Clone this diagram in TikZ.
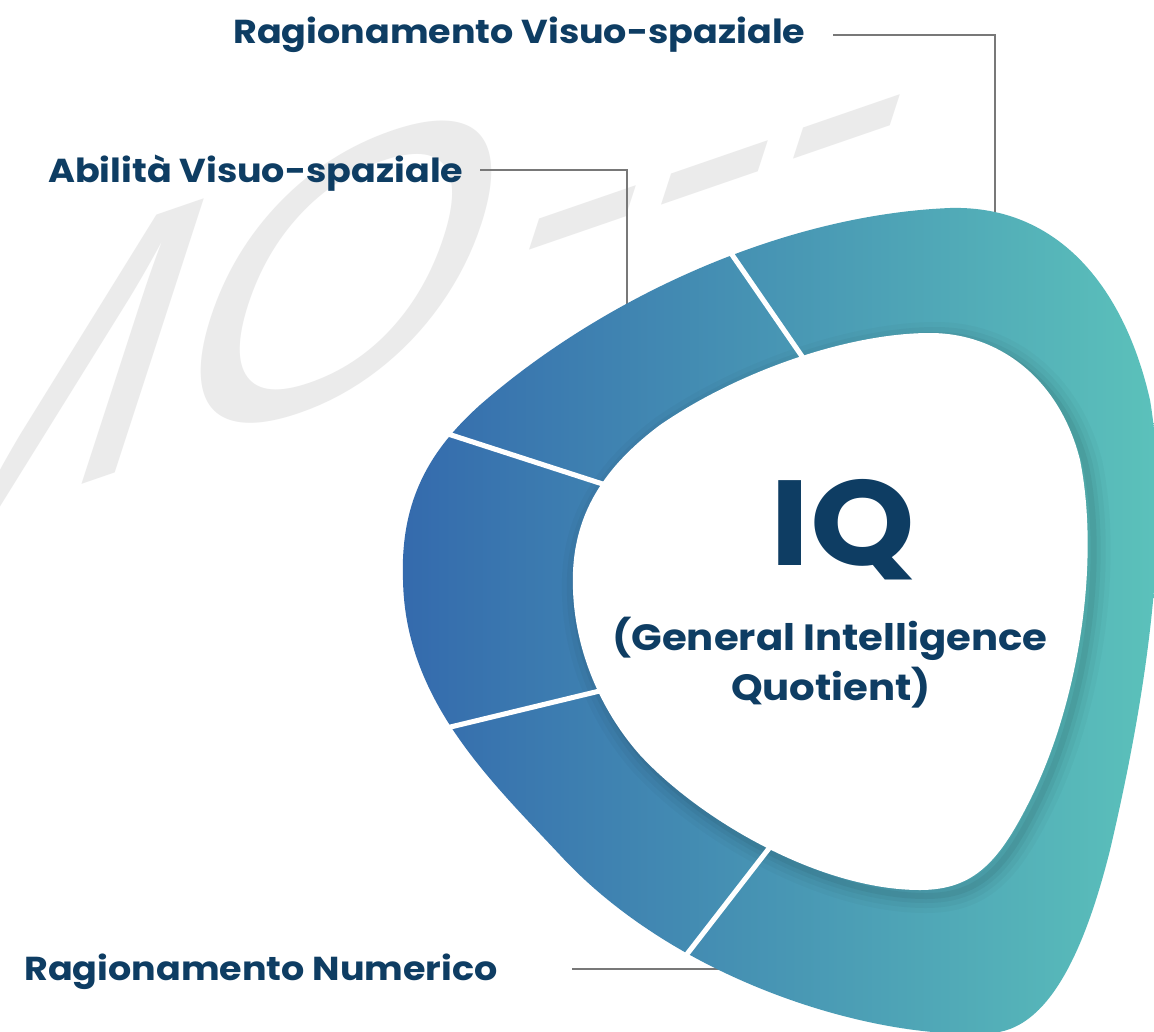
\documentclass[tikz,border=0pt]{standalone}
\usepackage{fontspec}
\setmainfont{Poppins}
\newfontfamily\labfont{Poppins}[FakeStretch=1.1]
\newfontfamily\wmfont{Liberation Sans}
\definecolor{navy}{RGB}{14,61,99}
\definecolor{ringL}{RGB}{52,106,173}
\definecolor{ringR}{RGB}{92,195,187}
\definecolor{leadergray}{RGB}{120,120,120}
\definecolor{wmgray}{RGB}{235,235,235}
\begin{document}
\begin{tikzpicture}[x=0.025cm,y=-0.025cm,
  lbl/.style={font=\labfont\fontsize{23.6}{28}\selectfont\bfseries, text=navy, inner sep=0pt, anchor=base west},
  centertxt/.style={font=\labfont\fontsize{26}{30}\selectfont\bfseries, text=navy, inner sep=0pt, anchor=base},
  leaderline/.style={draw=leadergray, line width=1.4pt},
  divider/.style={draw=white, line width=3.6pt},
]
\useasboundingbox[fill=white] (0,0) rectangle (1154,1031);
% watermark
\begin{scope}[shift={(-183,576)}, cm={0.946,0.326,0.309,0.951,(0,0)}]
\node[transform shape, anchor=base west, inner sep=0pt, text=wmgray,
  font=\wmfont\fontsize{298}{300}\selectfont] (wm) at (0,0) {MO\kern20pt\hbox{-}\hbox{-}\hbox{-}};
\end{scope}
% leader end points
\coordinate (rvA) at (833,35);  \coordinate (rvB) at (995,222);
\coordinate (avA) at (480,170); \coordinate (avB) at (627,312);
\coordinate (rnA) at (572,969); \coordinate (rnB) at (735,969);
\draw[leaderline] (rvA) -| (rvB);
\draw[leaderline] (avA) -| (avB);
\draw[leaderline] (rnA) -- (rnB);
% ring: outer shape with horizontal gradient
\shade[left color=ringL, right color=ringR]
  (403,580) .. controls (400,500) and (430,450) .. (480,405)
  .. controls (600,300) and (780,215) .. (950,208)
  .. controls (1060,205) and (1125,290) .. (1150,400)
  .. controls (1170,520) and (1150,680) .. (1110,850)
  .. controls (1080,970) and (1040,1035) .. (985,1033)
  .. controls (880,1040) and (680,985) .. (560,855)
  .. controls (490,780) and (405,700) .. (403,580) -- cycle;
% soft shadow along the inner edge
\begin{scope}[shift={(6,6)}]
\foreach \w/\o in {34/0.025, 24/0.03, 14/0.04, 6/0.05}{
\draw[line width=\w*0.7113pt, draw=black, draw opacity=\o]
  (573,590) .. controls (570,520) and (600,470) .. (660,425)
  .. controls (740,370) and (850,333) .. (930,333)
  .. controls (1000,333) and (1060,380) .. (1080,460)
  .. controls (1100,560) and (1080,700) .. (1030,800)
  .. controls (1000,860) and (975,890) .. (920,890)
  .. controls (820,890) and (700,820) .. (640,755)
  .. controls (600,710) and (575,650) .. (573,590) -- cycle;
}
\end{scope}
% inner white area
\fill[white]
  (573,590) .. controls (570,520) and (600,470) .. (660,425)
  .. controls (740,370) and (850,333) .. (930,333)
  .. controls (1000,333) and (1060,380) .. (1080,460)
  .. controls (1100,560) and (1080,700) .. (1030,800)
  .. controls (1000,860) and (975,890) .. (920,890)
  .. controls (820,890) and (700,820) .. (640,755)
  .. controls (600,710) and (575,650) .. (573,590) -- cycle;
% dividers
\draw[divider] (726,246) -- (810,368);
\draw[divider] (445,433) -- (615,488);
\draw[divider] (438,730) -- (612,688);
\draw[divider] (684,958) -- (777,838);
% labels
\node[lbl] (rv) at (233,44) {Ragionamento Visuo-spaziale};
\node[lbl] (av) at (48,182) {Abilità Visuo-spaziale};
\node[lbl] (rn) at (24,980) {Ragionamento Numerico};
\node[font=\labfont\fontsize{86}{86}\selectfont\bfseries, text=navy, inner sep=0pt, anchor=base] (iq) at (843,565) {IQ};
\node[centertxt] (gi) at (830,650) {(General Intelligence};
\node[centertxt] (qt) at (831,700) {Quotient)};
\end{tikzpicture}
\end{document}
